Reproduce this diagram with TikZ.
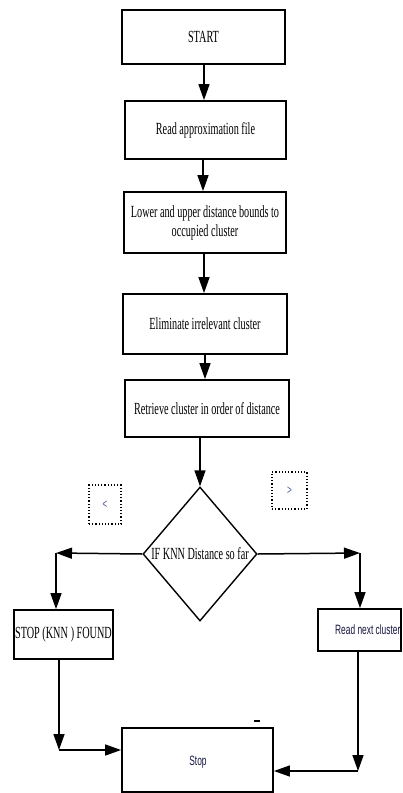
\documentclass[tikz,border=0pt]{standalone}
\usepackage{fontspec}
\usetikzlibrary{arrows.meta,shapes.geometric}
\newfontfamily\serifc[FakeStretch=0.6]{Liberation Serif}
\newfontfamily\sansc[FakeStretch=0.62]{Liberation Sans}
\definecolor{navy}{rgb}{0.08,0.08,0.25}
\definecolor{bluish}{rgb}{0.3,0.35,0.65}
\tikzset{
  box/.style={draw, line width=1.8pt, inner sep=0pt, align=center,
    font=\serifc\fontsize{17}{19}\selectfont},
  arr/.style={line width=1.5pt, -{Triangle[width=11pt,length=16pt]}},
  dotbox/.style={draw, dotted, line width=1.2pt, inner sep=0pt,
    text=bluish, font=\sansc\fontsize{13}{13}\selectfont},
  sanstxt/.style={text=navy, font=\sansc\fontsize{13.5}{16}\selectfont, inner sep=0pt}
}
\begin{document}
\begin{tikzpicture}[x=1pt,y=-1pt]
\useasboundingbox (0,0) rectangle (402,793);
\fill[white] (0,0) rectangle (402,793);
% boxes
\node[box, minimum width=163pt, minimum height=54pt] (start) at (203.5,37) {START};
\node[box, minimum width=161pt, minimum height=58pt] (read) at (205.5,130) {Read approximation file};
\node[box, minimum width=162pt, minimum height=61pt] (lower) at (205,222.5) {Lower and upper distance bounds to\\occupied cluster};
\node[box, minimum width=164pt, minimum height=60pt] (elim) at (205,324) {Eliminate irrelevant cluster};
\node[box, minimum width=164pt, minimum height=57pt] (retr) at (207,408.5) {Retrieve cluster in order of distance};
\node[diamond, draw, line width=1.4pt, minimum width=114pt, minimum height=134pt, inner sep=0pt,
  font=\serifc\fontsize{17}{19}\selectfont] (diam) at (200,554) {IF KNN Distance so far};
\node[dotbox, minimum width=32pt, minimum height=39pt] (lt) at (105,504.5) {<};
\node[dotbox, minimum width=35pt, minimum height=37pt] (gt) at (289.5,490.5) {>};
\node[box, minimum width=99pt, minimum height=49pt] (knn) at (63.5,634.5) {STOP (KNN\,) FOUND};
\node[box, minimum width=83pt, minimum height=42pt] (rnc) at (359.5,630) {};
\node[sanstxt, anchor=west] (rnctext) at (335,630) {Read next cluster};
\node[box, minimum width=151pt, minimum height=64pt] (stop) at (197.5,760) {};
\node[sanstxt] (stoptext) at (198,762) {Stop};
% connectors
\draw[arr] (start.south -| 204,0) -- (read.north -| 204,0);
\draw[arr] (read.south -| 203,0) -- (lower.north -| 203,0);
\draw[arr] (lower.south -| 204,0) -- (elim.north -| 204,0);
\draw[arr] (elim.south -| 205,0) -- (retr.north -| 205,0);
\draw[arr] (retr.south -| diam.north) -- (diam.north);
\coordinate (L) at (56,553);
\coordinate (R) at (360,553);
\draw[arr] (diam.west) -- (L);
\draw[arr] (L) -- (L |- knn.north);
\draw[arr] (diam.east) -- (R);
\draw[arr] (R) -- (R |- rnc.north);
\coordinate (K2) at (59,750);
\coordinate (R2) at (358,771);
\draw[arr] (knn.south -| K2) -- (K2);
\draw[arr] (K2) -- (K2 -| stop.west);
\draw[arr] (rnc.south -| R2) -- (R2);
\draw[arr] (R2) -- (R2 -| stop.east);
% small mark
\draw[line width=1.8pt] (254,721) -- (260,721);
\end{tikzpicture}
\end{document}
